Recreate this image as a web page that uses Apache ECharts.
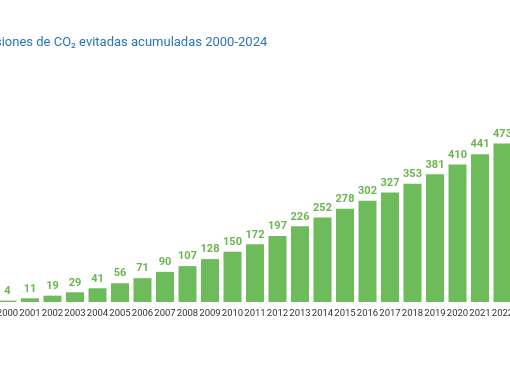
<!DOCTYPE html>
<html>
<head>
<meta charset="utf-8">
<script src="https://cdn.jsdelivr.net/npm/echarts@6/dist/echarts.min.js"></script>
<style>html,body{margin:0;padding:0;background:#fff;}#c{width:510px;height:382px;}</style>
</head>
<body>
<div id="c"></div>
<script>
var titleText = 'Emisiones de CO₂ evitadas acumuladas 2000-2024';
var years = ['2000','2001','2002','2003','2004','2005','2006','2007','2008','2009','2010','2011','2012','2013','2014','2015','2016','2017','2018','2019','2020','2021','2022'];
var values = [4,11,19,29,41,56,71,90,107,128,150,172,197,226,252,278,302,327,353,381,410,441,473];

var chart = echarts.init(document.getElementById('c'));
chart.setOption({
  animation: false,
  title: {
    text: titleText,
    left: -32,
    top: 31,
    textStyle: {color: '#2b74b9', fontSize: 13, fontWeight: 'normal', fontFamily: 'Roboto'}
  },
  grid: {left: -3.75, right: -3.75, top: 143.5, bottom: 80, outerBoundsMode: 'none', containLabel: false},
  xAxis: {
    type: 'category',
    data: years,
    axisLine: {show: false},
    axisTick: {show: false},
    axisLabel: {color: '#333', fontSize: 9.5, fontFamily: 'Roboto', margin: 7, interval: 0}
  },
  yAxis: {
    type: 'value',
    min: 0,
    max: 473,
    show: false,
    splitLine: {show: false}
  },
  series: [{
    type: 'bar',
    data: values,
    barCategoryGap: '20%',
    itemStyle: {color: '#6dbb5a'},
    label: {show: true, position: 'top', distance: 4, color: '#6cb552', fontSize: 11, fontWeight: 'bold', fontFamily: 'Roboto'}
  }]
});
</script>
</body>
</html>
